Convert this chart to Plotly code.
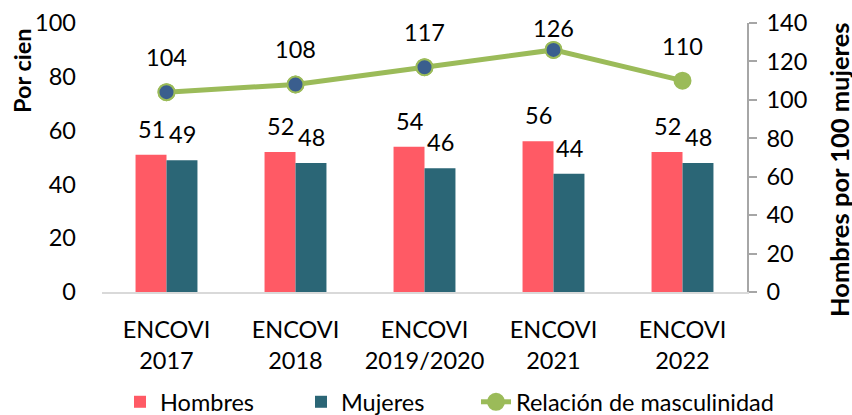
import plotly.graph_objects as go

categories = ["ENCOVI<br>2017", "ENCOVI<br>2018", "ENCOVI<br>2019/2020", "ENCOVI<br>2021", "ENCOVI<br>2022"]
hombres = [51, 52, 54, 56, 52]
mujeres = [49, 48, 46, 44, 48]
relacion = [104, 108, 117, 126, 110]
highlighted = [True, True, True, True, False]  # blue markers

RED = "#FF5A65"
TEAL = "#2B6676"
GREEN = "#9BBB59"
BLUE = "#3A5E8E"
FONT = "Lato"
FS = 23.5

# plot area in pixels
W, H = 852, 415
L, R, T, B = 102, 105, 23, 123
PW, PH = W - L - R, H - T - B
Y2MAX = 140

fig = go.Figure()
fig.add_trace(go.Bar(x=categories, y=hombres, name="Hombres", legend="legend",
                     marker=dict(color=RED, line=dict(width=0))))
fig.add_trace(go.Bar(x=categories, y=mujeres, name="Mujeres", legend="legend2",
                     marker=dict(color=TEAL, line=dict(width=0))))
fig.add_trace(go.Scatter(
    x=categories, y=relacion, name="Relación de masculinidad", yaxis="y2", legend="legend3",
    mode="lines+markers",
    line=dict(color=GREEN, width=5),
    marker=dict(size=16, color=GREEN, line=dict(color=GREEN, width=2)),
))
fig.add_trace(go.Scatter(
    x=[c for c, h in zip(categories, highlighted) if h],
    y=[r for r, h in zip(relacion, highlighted) if h],
    yaxis="y2", mode="markers", showlegend=False, hoverinfo="skip",
    marker=dict(size=16, color=BLUE, line=dict(color=GREEN, width=2)),
))

annotations = []
for c, h, m, r in zip(categories, hombres, mujeres, relacion):
    annotations.append(dict(x=c, y=h, xref="x", yref="y", text=str(h), showarrow=False,
                            xshift=-15.5, yshift=26, font=dict(size=FS, color="#000")))
    annotations.append(dict(x=c, y=m, xref="x", yref="y", text=str(m), showarrow=False,
                            xshift=15.5, yshift=26, font=dict(size=FS, color="#000")))
    # keep line labels inside the top of the chart
    pos = PH * r / Y2MAX  # pixels above baseline
    shift = min(35, (PH - 5.5) - pos)
    annotations.append(dict(x=c, y=r, xref="x", yref="y2", text=str(r), showarrow=False,
                            yshift=shift, font=dict(size=FS, color="#000")))

# axis titles as rotated annotations
annotations.append(dict(text="<b>Por cien</b>", xref="paper", yref="paper",
                        x=(22 - L) / PW, y=(T + PH - 71) / PH, xanchor="center", yanchor="middle",
                        textangle=-90, showarrow=False, font=dict(size=FS, color="#000")))
annotations.append(dict(text="<b>Hombres por 100 mujeres</b>", xref="paper", yref="paper",
                        x=(839 - L) / PW, y=(T + PH - 170) / PH, xanchor="center", yanchor="middle",
                        textangle=-90, showarrow=False, font=dict(size=25.5, color="#000")))

legend_common = dict(orientation="h", xref="container", yref="container", xanchor="left",
                     y=1 - 402 / H, yanchor="middle", font=dict(size=FS), bgcolor="rgba(0,0,0,0)",
                     borderwidth=0)

fig.update_layout(
    width=W, height=H,
    margin=dict(l=L, r=R, t=T, b=B, autoexpand=False),
    paper_bgcolor="white", plot_bgcolor="white",
    font=dict(family=FONT, size=FS, color="#000"),
    barmode="group", bargap=0.52, bargroupgap=0,
    showlegend=True,
    legend=dict(legend_common, x=120 / W),
    legend2=dict(legend_common, x=301 / W),
    legend3=dict(legend_common, x=476 / W),
    annotations=annotations,
    xaxis=dict(showline=True, linecolor="#D9D9D9", linewidth=1.5, ticks="", showgrid=False,
               tickfont=dict(size=FS), ticklabelstandoff=16, automargin=False),
    yaxis=dict(range=[0, 100], dtick=20, showgrid=False, zeroline=False, showline=False,
               ticks="", ticklabelstandoff=25, automargin=False),
    yaxis2=dict(range=[0, Y2MAX], dtick=20, overlaying="y", side="right", showgrid=False,
                zeroline=False, showline=True, linecolor="#A6A6A6", linewidth=1.5,
                ticks="outside", ticklen=8, tickcolor="#A6A6A6", tickwidth=1.5,
                ticklabelstandoff=5, automargin=False),
)

fig.write_html("out.html", config={"displayModeBar": False},
               post_script="document.body.style.margin='0';")
